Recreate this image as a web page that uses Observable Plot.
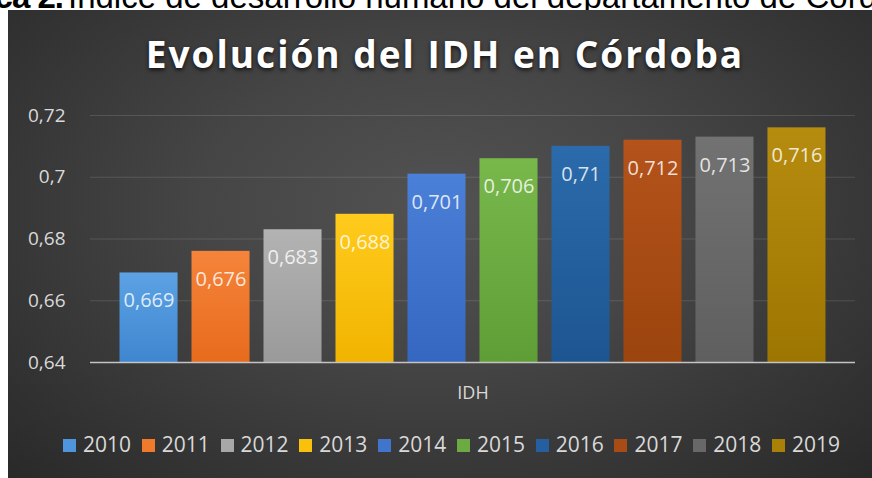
<!DOCTYPE html>
<html>
<head>
<meta charset="utf-8">
<script src="https://cdn.jsdelivr.net/npm/d3@7"></script>
<script src="https://cdn.jsdelivr.net/npm/@observablehq/plot@0.6"></script>
<style>
  html, body { margin: 0; padding: 0; background: #fff; }
  body { width: 872px; height: 478px; position: relative; overflow: hidden; }
  #header { position: absolute; left: 0; top: 0; width: 872px; height: 10px; overflow: hidden; z-index: 1;
    font-family: "Liberation Sans", Arial, sans-serif; font-size: 33px; line-height: 33px; color: #000; white-space: nowrap; }
  #header .b { position: absolute; right: calc(100% - 63px); top: -20px; font-weight: bold; letter-spacing: -1px; }
  #header .r { position: absolute; left: 68px; top: -20px; }
  #panel { position: absolute; left: 8px; top: 10px; width: 864px; height: 468px; z-index: 2;
    background: radial-gradient(ellipse farthest-corner at 50% 42%, #525252 0%, #454545 40%, #292929 100%); }
  #title { position: absolute; left: 0; top: 25px; width: 874px; text-align: center;
    font-family: "Open Sans", sans-serif; font-weight: bold; font-size: 37px; line-height: 37px; color: #fff;
    letter-spacing: 2px; text-shadow: 0 2px 4px rgba(0,0,0,0.75); white-space: nowrap; }
  #chart { position: absolute; left: 0; top: 85px; }
  #legend { position: absolute; left: 55px; top: 424px; font-family: "Open Sans", sans-serif; font-size: 21px;
    line-height: 21px; color: #d9d9d9; white-space: nowrap; }
  #legend .item { display: inline-block; margin-right: 10.75px; }
  #legend .sw { display: inline-block; width: 13px; height: 13px; margin-right: 7px; }
</style>
</head>
<body>
<div id="header"><span class="b">Gráfica 2.</span><span class="r">Índice de desarrollo humano del departamento de Córdoba</span></div>
<div id="panel">
  <div id="title">Evolución del IDH en Córdoba</div>
  <div id="chart"></div>
  <div id="legend"></div>
</div>
<svg width="0" height="0" style="position:absolute"><defs id="gradDefs"></defs></svg>
<script>
const categories = ["IDH"];
const years = ["2010","2011","2012","2013","2014","2015","2016","2017","2018","2019"];
const values = [0.669, 0.676, 0.683, 0.688, 0.701, 0.706, 0.71, 0.712, 0.713, 0.716];
const valueLabels = ["0,669","0,676","0,683","0,688","0,701","0,706","0,71","0,712","0,713","0,716"];
const colorsTop = ["#5ca2e4","#f5843a","#b3b3b3","#ffcb1c","#4b80d8","#78b84b","#2b6bab","#b4531b","#727272","#b68c0f"];
const colorsBottom = ["#3f86d0","#e86b1d","#9a9a9a","#f1b400","#3567c0","#5f9e36","#1d5591","#9b440d","#5f5f5f","#9d7601"];
const legendColors = ["#4f95dc","#ef7a2b","#a8a8a8","#f9c00c","#4174cd","#6cab41","#255f9f","#a84b14","#686868","#aa8108"];
const yDomain = [0.64, 0.72];
const yTicks = [0.64, 0.66, 0.68, 0.7, 0.72];
const yTickLabels = ["0,64", "0,66", "0,68", "0,7", "0,72"];

// gradients
const defs = d3.select("#gradDefs");
years.forEach((y, i) => {
  const g = defs.append("linearGradient").attr("id", "g" + y).attr("x1", 0).attr("y1", 0).attr("x2", 0).attr("y2", 1);
  g.append("stop").attr("offset", "0%").attr("stop-color", colorsTop[i]);
  g.append("stop").attr("offset", "100%").attr("stop-color", colorsBottom[i]);
});

const rows = years.map((y, i) => ({cat: categories[0], year: y, value: values[i], label: valueLabels[i], fill: "url(#g" + y + ")"}));

const chart = Plot.plot({
  width: 864,
  height: 325,
  marginTop: 20,
  marginBottom: 58,
  marginLeft: 82,
  marginRight: 17,
  style: {background: "transparent", fontFamily: "Open Sans", color: "#d9d9d9", overflow: "visible"},
  fx: {domain: categories, padding: 0, round: false, axis: null},
  x: {domain: years, paddingInner: 0.194, paddingOuter: 0.41, round: false, axis: null},
  y: {domain: yDomain, axis: null},
  color: {type: "identity"},
  marks: [
    Plot.gridY(yTicks, {stroke: "#ffffff", strokeOpacity: 0.13, strokeWidth: 1}),
    Plot.axisY(yTicks, {tickSize: 0, tickPadding: 25, fontSize: 19, fill: "#d9d9d9",
      tickFormat: d => yTickLabels[yTicks.indexOf(d)], label: null}),
    Plot.barY(rows, {fx: "cat", x: "year", y1: () => yDomain[0], y2: "value", fill: "fill"}),
    Plot.ruleY([yDomain[0]], {stroke: "#c4c4c4", strokeWidth: 1.5}),
    Plot.text(rows, {fx: "cat", x: "year", y: "value", text: "label", dy: 28, fill: "#ffffff", fillOpacity: 0.82, fontSize: 20}),
    Plot.axisFx({anchor: "bottom", domain: categories, tickSize: 0, tickPadding: 24, fontSize: 18, fill: "#d9d9d9", label: null})
  ]
});
document.getElementById("chart").appendChild(chart);

// legend
const legend = d3.select("#legend");
years.forEach((y, i) => {
  const it = legend.append("span").attr("class", "item");
  it.append("span").attr("class", "sw").style("background", legendColors[i]);
  it.append("span").text(y);
});
</script>
</body>
</html>
